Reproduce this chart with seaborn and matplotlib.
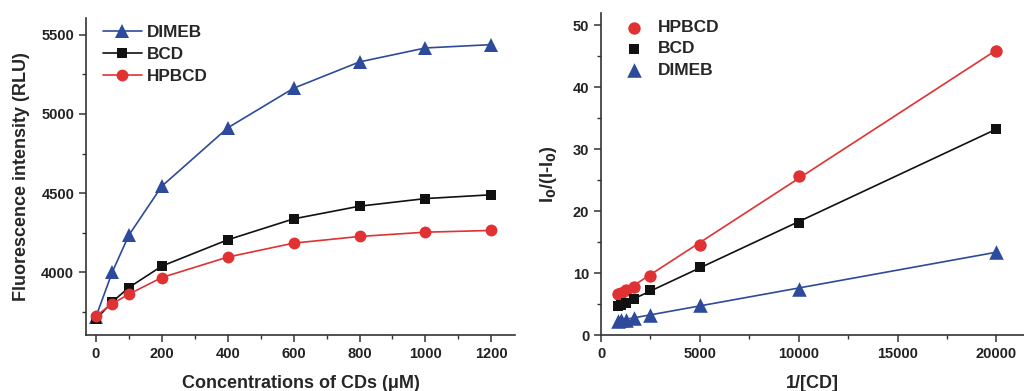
import numpy as np
import pandas as pd
import matplotlib
matplotlib.use("Agg")
import matplotlib.pyplot as plt
from matplotlib.ticker import MultipleLocator
import seaborn as sns

# Fluorescence titration with cyclodextrins
conc_um = [0, 50, 100, 200, 400, 600, 800, 1000, 1200]
dimeb_rlu = [3720, 4004, 4235, 4544, 4912, 5162, 5328, 5416, 5437]
bcd_rlu = [3704, 3815, 3905, 4040, 4206, 4338, 4418, 4466, 4490]
hpbcd_rlu = [3725, 3803, 3863, 3968, 4097, 4185, 4227, 4254, 4265]

# Double-reciprocal (Benesi-Hildebrand) data
inv_cd = [20000, 10000, 5000, 2500, 1667, 1250, 1000, 833]
hpbcd_ratio = [45.9, 25.7, 14.6, 9.6, 7.8, 7.2, 6.8, 6.6]
bcd_ratio = [33.3, 18.1, 11.0, 7.3, 5.75, 5.2, 4.8, 4.7]
dimeb_ratio = [13.4, 7.5, 4.8, 3.3, 2.8, 2.5, 2.4, 2.3]

BLUE = "#2E4B9B"
RED = "#E03232"
BLACK = "#111111"

sns.set_theme(style="ticks")
plt.rcParams["font.family"] = ["Liberation Sans", "DejaVu Sans"]
plt.rcParams["font.weight"] = "bold"
plt.rcParams["axes.labelweight"] = "bold"

fig = plt.figure(figsize=(10.24, 3.91), dpi=100)
ax1 = fig.add_axes([0.084, 0.143, 0.419, 0.811])
ax2 = fig.add_axes([0.587, 0.143, 0.413, 0.824])

titr = pd.DataFrame({
    "conc": conc_um * 3,
    "rlu": dimeb_rlu + bcd_rlu + hpbcd_rlu,
    "cd": ["DIMEB"] * 9 + ["BCD"] * 9 + ["HPBCD"] * 9,
})
styles = {"DIMEB": (BLUE, "^", 10), "BCD": (BLACK, "s", 7.5), "HPBCD": (RED, "o", 8.5)}
for name in ["DIMEB", "BCD", "HPBCD"]:
    col, mk, ms = styles[name]
    sub = titr[titr["cd"] == name]
    sns.lineplot(data=sub, x="conc", y="rlu", ax=ax1, color=col, marker=mk,
                 markersize=ms, markeredgewidth=0, linewidth=1.2, label=name)

ax1.set_xlim(-30, 1272)
ax1.set_ylim(3605, 5605)
ax1.xaxis.set_major_locator(MultipleLocator(200))
ax1.xaxis.set_minor_locator(MultipleLocator(100))
ax1.yaxis.set_major_locator(MultipleLocator(500))
ax1.yaxis.set_minor_locator(MultipleLocator(250))
ax1.set_xlabel("Concentrations of CDs (\u03bcM)", fontsize=13, fontweight="bold", labelpad=10)
ax1.set_ylabel("Fluorescence intensity (RLU)", fontsize=13, fontweight="bold", labelpad=8)
ax1.legend(loc="upper left", frameon=False, fontsize=12.3, handlelength=2.3,
           handletextpad=0.3, labelspacing=0.4, borderaxespad=0.2,
           bbox_to_anchor=(0.015, 1.01))

recip = pd.DataFrame({
    "inv": inv_cd * 3,
    "ratio": hpbcd_ratio + bcd_ratio + dimeb_ratio,
    "cd": ["HPBCD"] * 8 + ["BCD"] * 8 + ["DIMEB"] * 8,
})
for name in ["HPBCD", "BCD", "DIMEB"]:
    col, mk, ms = styles[name]
    sub = recip[recip["cd"] == name]
    sns.regplot(data=sub, x="inv", y="ratio", ax=ax2, ci=None, truncate=True,
                color=col, marker=mk, label=name,
                scatter_kws={"s": ms ** 2 * 1.1, "linewidths": 0, "alpha": 1, "zorder": 3},
                line_kws={"linewidth": 1.2})

ax2.set_xlim(0, 21400)
ax2.set_ylim(0, 52)
ax2.xaxis.set_major_locator(MultipleLocator(5000))
ax2.xaxis.set_minor_locator(MultipleLocator(2500))
ax2.yaxis.set_major_locator(MultipleLocator(10))
ax2.yaxis.set_minor_locator(MultipleLocator(5))
ax2.set_xlabel("1/[CD]", fontsize=13, fontweight="bold", labelpad=10)
ax2.set_ylabel("I$_\\mathbf{0}$/(I-I$_\\mathbf{0}$)", fontsize=13, fontweight="bold", labelpad=10)
ax2.legend(loc="upper left", frameon=False, fontsize=12.5, handletextpad=0.35,
           labelspacing=0.35, borderaxespad=0.2, bbox_to_anchor=(0.012, 1.01))

for ax in (ax1, ax2):
    sns.despine(ax=ax)
    for s in ("left", "bottom"):
        ax.spines[s].set_linewidth(1.2)
        ax.spines[s].set_color("#333333")
    ax.tick_params(which="major", direction="out", length=5, width=1.1, labelsize=10.5, colors="#333333")
    ax.tick_params(which="minor", direction="out", length=3, width=1.0, colors="#333333")
    for lab in ax.get_xticklabels() + ax.get_yticklabels():
        lab.set_fontweight("bold")
        lab.set_color("#222222")

fig.savefig("out.png", dpi=100)
